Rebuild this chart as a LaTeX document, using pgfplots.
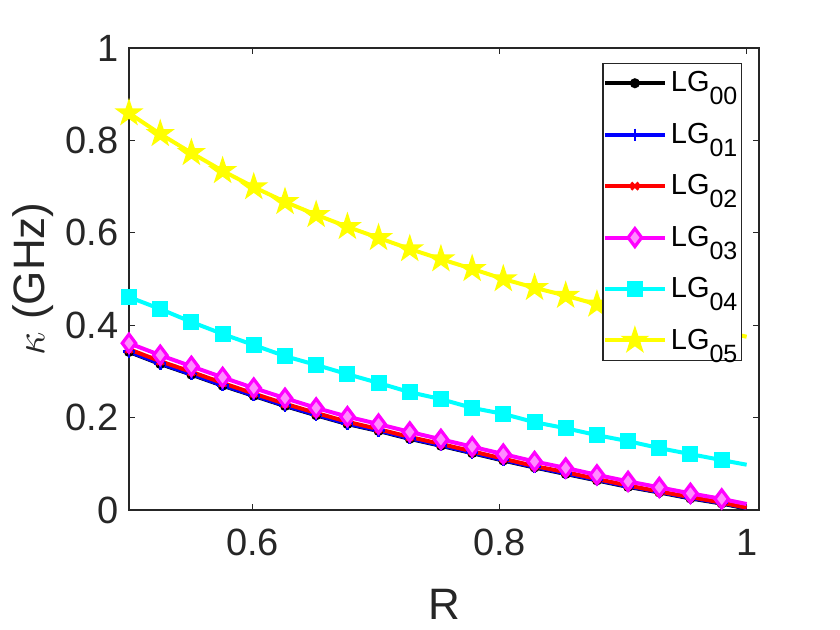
\documentclass[border=0pt]{standalone}
\usepackage{fontspec}
\setmainfont{Liberation Sans}
\setsansfont{Liberation Sans}
\usepackage{pgfplots}
\pgfplotsset{compat=1.18}
\usetikzlibrary{plotmarks}
\definecolor{mblack}{rgb}{0,0,0}
\definecolor{mblue}{rgb}{0,0,1}
\definecolor{mred}{rgb}{1,0,0}
\definecolor{mmag}{rgb}{1,0,1}
\definecolor{mcyan}{rgb}{0,1,1}
\definecolor{myel}{rgb}{1,1,0}
\pgfdeclareplotmark{pentagram}{%
  \pgfpathmoveto{\pgfpointpolar{90}{\pgfplotmarksize}}%
  \pgfpathlineto{\pgfpointpolar{126}{0.382\pgfplotmarksize}}%
  \pgfpathlineto{\pgfpointpolar{162}{\pgfplotmarksize}}%
  \pgfpathlineto{\pgfpointpolar{198}{0.382\pgfplotmarksize}}%
  \pgfpathlineto{\pgfpointpolar{234}{\pgfplotmarksize}}%
  \pgfpathlineto{\pgfpointpolar{270}{0.382\pgfplotmarksize}}%
  \pgfpathlineto{\pgfpointpolar{306}{\pgfplotmarksize}}%
  \pgfpathlineto{\pgfpointpolar{342}{0.382\pgfplotmarksize}}%
  \pgfpathlineto{\pgfpointpolar{18}{\pgfplotmarksize}}%
  \pgfpathlineto{\pgfpointpolar{54}{0.382\pgfplotmarksize}}%
  \pgfpathclose
  \pgfusepathqfillstroke}
\newcommand{\sub}[1]{\raisebox{-6.5pt}{\fontsize{12.5}{12.5}\selectfont #1}}
\pgfplotstableread{
x      k0     k1     k2     k3     k4     k5
0.5000 0.342  0.343  0.348  0.361  0.461  0.859
0.5253 0.316  0.317  0.322  0.335  0.435  0.814
0.5505 0.293  0.294  0.299  0.311  0.407  0.773
0.5758 0.269  0.270  0.275  0.287  0.381  0.734
0.6010 0.247  0.248  0.252  0.264  0.357  0.699
0.6263 0.225  0.226  0.230  0.242  0.333  0.667
0.6515 0.205  0.206  0.210  0.221  0.314  0.639
0.6768 0.186  0.187  0.191  0.202  0.294  0.613
0.7020 0.171  0.172  0.175  0.186  0.275  0.589
0.7273 0.154  0.155  0.158  0.169  0.255  0.565
0.7525 0.139  0.140  0.143  0.153  0.240  0.543
0.7778 0.123  0.124  0.127  0.137  0.221  0.522
0.8030 0.107  0.108  0.111  0.121  0.208  0.500
0.8283 0.092  0.093  0.095  0.105  0.190  0.481
0.8535 0.078  0.079  0.082  0.091  0.177  0.464
0.8788 0.064  0.065  0.067  0.076  0.162  0.445
0.9040 0.050  0.051  0.053  0.062  0.149  0.429
0.9293 0.038  0.039  0.040  0.049  0.134  0.414
0.9545 0.025  0.026  0.028  0.036  0.121  0.400
0.9798 0.014  0.015  0.016  0.024  0.108  0.387
1.0000 0.003  0.004  0.005  0.013  0.098  0.375
}\datatable
\begin{document}
\begin{tikzpicture}
\path[use as bounding box] (-64.5pt,-60pt) rectangle (355.5pt,255pt);
\begin{axis}[
  at={(0,0)}, anchor=south west,
  scale only axis, width=315pt, height=231pt,
  xmin=0.5, xmax=1.01, ymin=0, ymax=1,
  xtick={0.6,0.8,1}, ytick={0,0.2,0.4,0.6,0.8,1},
  tick align=inside, major tick length=3pt,
  axis line style={black!85, line width=0.6pt},
  every tick/.style={black!85, line width=0.6pt},
  /pgf/number format/assume math mode=true,
  tick label style={font=\fontsize{19}{22}\selectfont, text=black!85},
  xticklabel style={yshift=-6pt},
  yticklabel style={xshift=-1.7pt},
  xlabel={R}, ylabel={$\kappa$ (GHz)},
  label style={font=\fontsize{22}{26}\selectfont, text=black!85},
  xlabel style={at={(axis description cs:0.5,0)}, anchor=base, yshift=-55pt},
  ylabel style={at={(axis description cs:0,0.5)}, anchor=center, yshift=48pt},
  legend style={at={(0.973,0.9675)}, anchor=north east, draw=black!85, line width=0.6pt,
    fill=white, font=\fontsize{14.5}{16}\selectfont, row sep=10.1pt, inner xsep=0pt},
  legend cell align=left,
  legend image code/.code={\draw[#1, mark indices={2}] plot coordinates {(0pt,0pt)(15pt,0pt)(30pt,0pt)};},
  every axis plot/.append style={line width=2pt, mark indices={1,...,20}},
]
\addplot[mblack, mark=*, mark size=2pt, mark options={solid, line width=1pt}] table[x=x,y=k0] {\datatable};
\addlegendentry{LG\sub{00}}
\addplot[mblue, mark=+, mark size=3pt, mark options={solid, line width=1.3pt}] table[x=x,y=k1] {\datatable};
\addlegendentry{LG\sub{01}}
\addplot[mred, mark=x, mark size=2.5pt, mark options={solid, line width=1.3pt}] table[x=x,y=k2] {\datatable};
\addlegendentry{LG\sub{02}}
\addplot[mmag, mark=diamond*, mark size=4.5pt, mark options={solid, fill=mmag!45!white, line width=1.6pt}] table[x=x,y=k3] {\datatable};
\addlegendentry{LG\sub{03}}
\addplot[mcyan, mark=square*, mark size=3.5pt, mark options={solid, fill=mcyan, line width=1pt}] table[x=x,y=k4] {\datatable};
\addlegendentry{LG\sub{04}}
\addplot[myel, mark=pentagram, mark size=6pt, mark options={solid, fill=myel, line width=1pt}] table[x=x,y=k5] {\datatable};
\addlegendentry{LG\sub{05}}
\end{axis}
\end{tikzpicture}
\end{document}
